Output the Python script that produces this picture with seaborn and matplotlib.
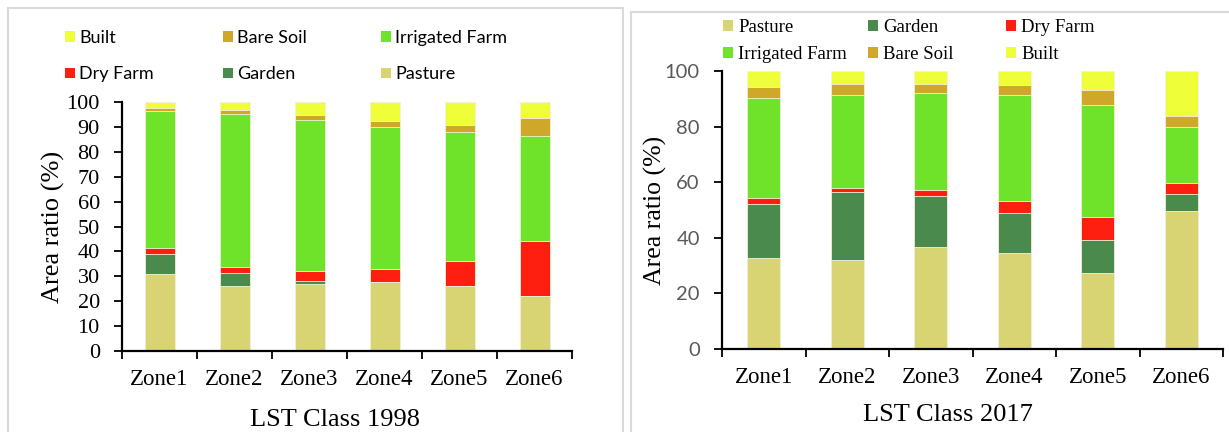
import numpy as np
import pandas as pd
import matplotlib
matplotlib.use("Agg")
import matplotlib.pyplot as plt
from matplotlib.patches import Patch, Rectangle
import seaborn as sns

sns.set_theme(style="white")
plt.rcParams['font.family'] = ['Liberation Serif', 'DejaVu Serif']

# Dane (udzial procentowy klas w strefach LST)
zones = ["Zone1", "Zone2", "Zone3", "Zone4", "Zone5", "Zone6"]
classes = ["Pasture", "Garden", "Dry Farm", "Irrigated Farm", "Bare Soil", "Built"]

pasture_1998 = [30.8, 26.0, 27.1, 27.9, 26.3, 22.0]
garden_1998 = [8.1, 5.2, 1.2, 0.0, 0.0, 0.0]
dryfarm_1998 = [2.4, 2.7, 3.7, 5.1, 9.9, 22.2]
irrigated_1998 = [54.9, 61.3, 60.6, 57.1, 51.7, 42.0]
baresoil_1998 = [1.4, 1.7, 2.0, 2.1, 3.0, 7.4]
built_1998 = [2.4, 3.1, 5.4, 7.8, 9.1, 6.4]

pasture_2017 = [32.8, 32.1, 36.8, 34.4, 27.4, 49.6]
garden_2017 = [19.3, 24.4, 18.2, 14.5, 11.7, 6.1]
dryfarm_2017 = [2.3, 1.5, 2.1, 4.5, 8.5, 4.1]
irrigated_2017 = [35.8, 33.2, 34.9, 37.8, 40.3, 19.9]
baresoil_2017 = [4.0, 4.1, 3.5, 3.9, 5.1, 4.1]
built_2017 = [5.8, 4.7, 4.5, 4.9, 7.0, 16.2]

colors = {
    "Pasture": "#D9D473",
    "Garden": "#4A8A4C",
    "Dry Farm": "#FF1F10",
    "Irrigated Farm": "#6EE32A",
    "Bare Soil": "#CFA82A",
    "Built": "#EEFF3A",
}

df98 = pd.DataFrame({"zone": zones, "Pasture": pasture_1998, "Garden": garden_1998,
                     "Dry Farm": dryfarm_1998, "Irrigated Farm": irrigated_1998,
                     "Bare Soil": baresoil_1998, "Built": built_1998})
df17 = pd.DataFrame({"zone": zones, "Pasture": pasture_2017, "Garden": garden_2017,
                     "Dry Farm": dryfarm_2017, "Irrigated Farm": irrigated_2017,
                     "Bare Soil": baresoil_2017, "Built": built_2017})

W, H = 1229, 432
fig = plt.figure(figsize=(W / 100, H / 100), dpi=100)


def px_axes(x0, y0, x1, y1):
    return fig.add_axes([x0 / W, 1 - y1 / H, (x1 - x0) / W, (y1 - y0) / H])


def draw_stack(ax, df):
    cum = df[classes].cumsum(axis=1)
    for cls in reversed(classes):
        sns.barplot(x=df["zone"], y=cum[cls], order=zones, color=colors[cls],
                    width=0.4, errorbar=None, saturation=1,
                    edgecolor="#F2F2DC", linewidth=0.6, ax=ax)


def style_axes(ax, step, ytick_font, ytick_color, ytick_size):
    ax.set_ylim(0, 100)
    ax.set_xlim(-0.5, 5.5)
    ax.set_yticks(np.arange(0, 101, step))
    ax.set_xticks(range(len(zones)))
    ax.set_xticklabels(zones, fontsize=16.5, color="black")
    ax.set_xticks(np.arange(-0.5, len(zones), 1), minor=True)
    ax.tick_params(axis="x", which="major", length=0, pad=13, bottom=True)
    ax.tick_params(axis="x", which="minor", length=6, width=1.3, color="black",
                   direction="out", bottom=True)
    ax.tick_params(axis="y", which="major", length=6, width=1.3, color="black",
                   direction="out", left=True, pad=10)
    for lab in ax.get_yticklabels():
        lab.set_family(ytick_font)
        lab.set_color(ytick_color)
        lab.set_fontsize(ytick_size)
    for s in ["top", "right"]:
        ax.spines[s].set_visible(False)
    for s in ["left", "bottom"]:
        ax.spines[s].set_color("black")
        ax.spines[s].set_linewidth(1.6)


def legend_column(x, y_top, entries, font, size, spacing):
    handles = [Patch(facecolor=colors[c], edgecolor="none") for c in entries]
    leg = fig.legend(handles, entries, loc="upper left",
                     bbox_to_anchor=(x / W, 1 - y_top / H), frameon=False,
                     borderpad=0, borderaxespad=0, handlelength=0.55,
                     handleheight=0.55, handletextpad=0.25,
                     labelspacing=spacing, prop={"family": font, "size": size})
    for t in leg.get_texts():
        t.set_color("black")
    return leg


# panel borders
fig.patches.append(Rectangle((7.5 / W, -0.1), 615 / W, 1.1 - 8 / H,
                             transform=fig.transFigure, fill=False,
                             edgecolor="#D9D9D9", linewidth=1.5))
fig.patches.append(Rectangle((630.5 / W, -0.1), 700 / W, 1.1 - 12 / H,
                             transform=fig.transFigure, fill=False,
                             edgecolor="#D9D9D9", linewidth=1.5))

# Wykres 1998
ax1 = px_axes(122, 102, 572, 351)
draw_stack(ax1, df98)
style_axes(ax1, 10, "Liberation Serif", "black", 16)
ax1.set_ylabel("Area ratio (%)", fontsize=19, color="black")
ax1.yaxis.set_label_coords(-0.127, 0.5)
ax1.set_xlabel("LST Class 1998", fontsize=19, color="black")
ax1.xaxis.set_label_coords(0.473, -0.233)

legend_column(65, 30, ["Built", "Dry Farm"], "Lato", 13, 1.13)
legend_column(223, 30, ["Bare Soil", "Garden"], "Lato", 13, 1.13)
legend_column(381, 30, ["Irrigated Farm", "Pasture"], "Lato", 13, 1.13)

# Wykres 2017
ax2 = px_axes(722, 71, 1223, 349)
draw_stack(ax2, df17)
style_axes(ax2, 20, "Lato", "#595959", 14.5)
ax2.set_ylabel("Area ratio (%)", fontsize=18.5, color="black")
ax2.yaxis.set_label_coords(-0.11, 0.5)
ax2.set_xlabel("LST Class 2017", fontsize=19, color="black")
ax2.xaxis.set_label_coords(0.451, -0.198)

legend_column(723, 19, ["Pasture", "Irrigated Farm"], "Liberation Serif", 13.5, 0.55)
legend_column(868, 19, ["Garden", "Bare Soil"], "Liberation Serif", 13.5, 0.55)
legend_column(1006, 19, ["Dry Farm", "Built"], "Liberation Serif", 13.5, 0.55)

fig.savefig("out.png", dpi=100)
